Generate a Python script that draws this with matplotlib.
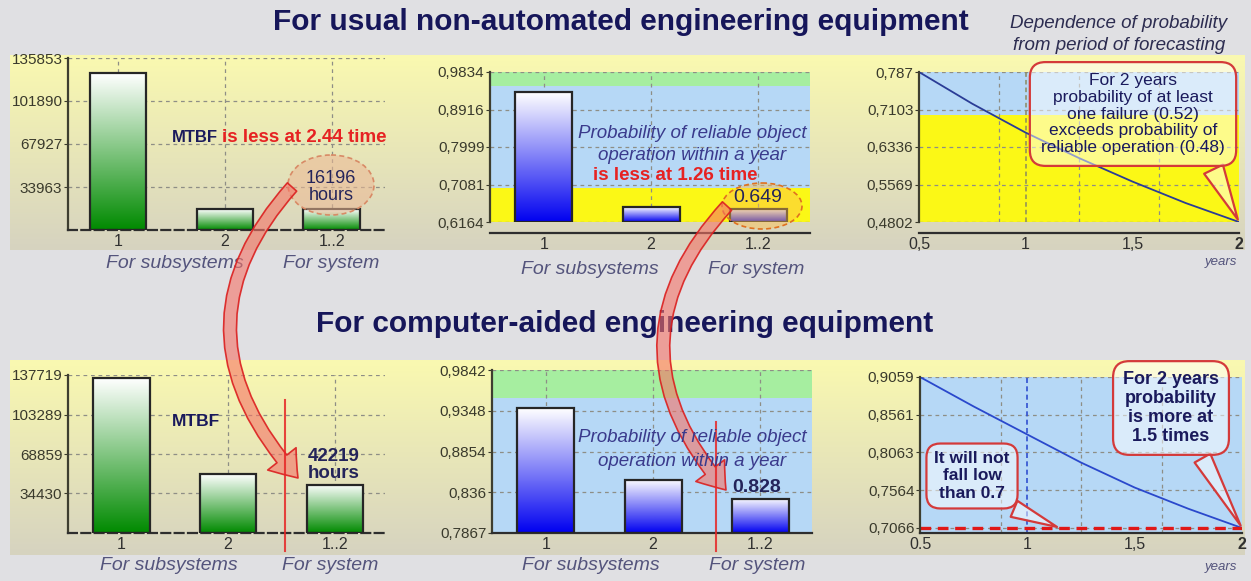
import numpy as np
import matplotlib
matplotlib.use('Agg')
import matplotlib.pyplot as plt
from matplotlib.patches import Ellipse, FancyArrowPatch
from matplotlib.path import Path
from matplotlib.colors import LinearSegmentedColormap

plt.rcParams['font.family'] = ['Liberation Sans', 'DejaVu Sans']

W, H = 1251, 581

# ---------------------------------------------------------------------------
# data
# ---------------------------------------------------------------------------
categories = ['1', '2', '1..2']
cat_pos = [1, 2, 3]

mtbf_usual = [124000, 16500, 16196]
mtbf_cad = [135000, 51000, 42219]
mtbf_usual_ticks = [33963, 67927, 101890, 135853]
mtbf_cad_ticks = [34430, 68859, 103289, 137719]

prob_usual = [0.934, 0.653, 0.649]
prob_cad = [0.938, 0.851, 0.828]
prob_usual_ticks = [0.6164, 0.7081, 0.7999, 0.8916, 0.9834]
prob_cad_ticks = [0.7867, 0.836, 0.8854, 0.9348, 0.9842]

years = [0.5, 0.75, 1.0, 1.25, 1.5, 1.75, 2.0]
prob_years_usual = [0.787, 0.722, 0.663, 0.611, 0.563, 0.519, 0.4802]
prob_years_cad = [0.9059, 0.867, 0.830, 0.793, 0.760, 0.732, 0.7066]
years_ticks = [0.5, 1, 1.5, 2]
years_labels_top = ['0,5', '1', '1,5', '2']
years_labels_bottom = ['0.5', '1', '1,5', '2']
years_usual_ticks = [0.4802, 0.5569, 0.6336, 0.7103, 0.787]
years_cad_ticks = [0.7066, 0.7564, 0.8063, 0.8561, 0.9059]
prob_floor = 0.7066
one_year = 1.0

# probability zones
zone_green = (0.95, 1.0)
zone_blue = (0.70, 0.95)
zone_yellow = (0.0, 0.70)

NAVY = '#1a1a5c'
RED = '#e62222'
SUB = '#54547c'
GRIDC = '#8e8e86'


def px_axes(x0, y0, x1, y1, z=1):
    ax = fig.add_axes([x0 / W, 1 - y1 / H, (x1 - x0) / W, (y1 - y0) / H])
    ax.set_zorder(z)
    return ax


def comma(v):
    return f'{v}'.replace('.', ',')


def style_axes(ax, yticks, ylabels, offset=0, dashed_bottom=False):
    ax.set_facecolor('none')
    ax.spines['top'].set_visible(False)
    ax.spines['right'].set_visible(False)
    ax.spines['left'].set_color('#3e3e30')
    ax.spines['left'].set_linewidth(1.6)
    ax.spines['bottom'].set_color('#2e2e2e')
    ax.spines['bottom'].set_linewidth(1.6)
    if offset:
        ax.spines['bottom'].set_position(('outward', offset))
    if dashed_bottom:
        ax.spines['bottom'].set_linestyle((0, (4, 2)))
    ax.set_yticks(yticks)
    ax.set_yticklabels(ylabels)
    ax.tick_params(axis='y', length=3, pad=1, labelsize=11, colors='#3a3a2c')
    ax.tick_params(axis='x', length=0, pad=3, labelsize=11.5, colors='#303030')
    ax.set_axisbelow(True)


def zones(ax):
    ax.axhspan(*zone_green, color='#a6eea0', zorder=0, lw=0)
    ax.axhspan(*zone_blue, color='#b6d8f6', zorder=0, lw=0)
    ax.axhspan(*zone_yellow, color='#fbf816', zorder=0, lw=0)


def gradient_bars(ax, vals, bottom, color):
    heights = [v - bottom for v in vals]
    bars = ax.bar(cat_pos, heights, bottom=bottom, width=0.53, facecolor='none',
                  edgecolor='#262626', lw=1.6, zorder=3)
    cmap = LinearSegmentedColormap.from_list('g', ['white', color])
    grad = np.linspace(1, 0, 256).reshape(-1, 1)
    for b in bars:
        x0, y0 = b.get_x(), b.get_y()
        im = ax.imshow(grad, cmap=cmap, origin='lower', aspect='auto', zorder=2,
                       extent=[x0, x0 + b.get_width(), y0, y0 + b.get_height()])
        im.set_clip_path(b)
    return bars


fig = plt.figure(figsize=(W / 100, H / 100), dpi=100)
fig.patch.set_facecolor('#e0e0e3')

# ---------------------------------------------------------------------------
# background layer: yellow strips and headings
# ---------------------------------------------------------------------------
bg = fig.add_axes([0, 0, 1, 1])
bg.set_zorder(-5)
bg.set_xlim(0, W)
bg.set_ylim(H, 0)
bg.axis('off')

top_c = np.array([250, 249, 176]) / 255
bot_c = np.array([214, 211, 192]) / 255
t = np.linspace(0, 1, 200).reshape(-1, 1, 1)
strip = top_c * (1 - t) + bot_c * t
for (ya, yb) in [(55, 250), (360, 555)]:
    bg.imshow(strip, extent=[10, 1245, yb, ya], aspect='auto', zorder=1)
bg.set_xlim(0, W)
bg.set_ylim(H, 0)

bg.text(621, 22, 'For usual non-automated engineering equipment', ha='center', va='center',
        fontsize=21.5, fontweight='bold', color='#16165a')
bg.text(625, 324, 'For computer-aided engineering equipment', ha='center', va='center',
        fontsize=21.5, fontweight='bold', color='#16165a')
bg.text(1119, 23, 'Dependence of probability', ha='center', va='center',
        fontsize=13.5, style='italic', color='#2c2c50')
bg.text(1119, 45, 'from period of forecasting', ha='center', va='center',
        fontsize=13.5, style='italic', color='#2c2c50')

for (xc, y, s) in [(175, 263, 'For subsystems'), (331, 263, 'For system'),
                   (590, 269, 'For subsystems'), (756, 269, 'For system'),
                   (169, 566, 'For subsystems'), (330, 566, 'For system'),
                   (591, 565, 'For subsystems'), (757, 565, 'For system')]:
    bg.text(xc, y, s, ha='center', va='center', fontsize=14, style='italic', color=SUB)
bg.text(1237, 262, 'years', ha='right', va='center', fontsize=9.5, style='italic', color=SUB)
bg.text(1237, 567, 'years', ha='right', va='center', fontsize=9.5, style='italic', color=SUB)

# ---------------------------------------------------------------------------
# MTBF panels
# ---------------------------------------------------------------------------
ax1 = px_axes(68, 58, 385, 230)
gradient_bars(ax1, mtbf_usual, 0, '#008a00')
style_axes(ax1, mtbf_usual_ticks, [str(v) for v in mtbf_usual_ticks], dashed_bottom=True)
ax1.set_xticks(cat_pos)
ax1.set_xticklabels(categories)
ax1.grid(True, ls=(0, (3, 3)), color=GRIDC, lw=0.9)
ax1.set_xlim(0.53, 3.5)
ax1.set_ylim(0, mtbf_usual_ticks[-1])

ax4 = px_axes(68, 375, 385, 533)
gradient_bars(ax4, mtbf_cad, 0, '#008a00')
style_axes(ax4, mtbf_cad_ticks, [str(v) for v in mtbf_cad_ticks], dashed_bottom=True)
ax4.set_xticks(cat_pos)
ax4.set_xticklabels(categories)
ax4.grid(True, ls=(0, (3, 3)), color=GRIDC, lw=0.9)
ax4.set_xlim(0.5, 3.47)
ax4.set_ylim(0, mtbf_cad_ticks[-1])

# ---------------------------------------------------------------------------
# probability-per-year panels
# ---------------------------------------------------------------------------
ax2 = px_axes(490, 72, 810, 222)
zones(ax2)
gradient_bars(ax2, prob_usual, prob_usual_ticks[0], '#0000f0')
style_axes(ax2, prob_usual_ticks, [comma(v) for v in prob_usual_ticks], offset=8)
ax2.set_xticks(cat_pos)
ax2.set_xticklabels(categories)
ax2.grid(True, ls=(0, (3, 3)), color=GRIDC, lw=0.9)
ax2.set_xlim(0.5, 3.48)
ax2.set_ylim(prob_usual_ticks[0], prob_usual_ticks[-1])

ax5 = px_axes(492, 370, 812, 533)
zones(ax5)
gradient_bars(ax5, prob_cad, prob_cad_ticks[0], '#0000f0')
style_axes(ax5, prob_cad_ticks, [comma(v) for v in prob_cad_ticks])
ax5.set_xticks(cat_pos)
ax5.set_xticklabels(categories)
ax5.grid(True, ls=(0, (3, 3)), color=GRIDC, lw=0.9)
ax5.set_xlim(0.5, 3.48)
ax5.set_ylim(prob_cad_ticks[0], prob_cad_ticks[-1])

# ---------------------------------------------------------------------------
# probability vs forecasting period
# ---------------------------------------------------------------------------
ax3 = px_axes(919, 72, 1239, 222, z=2)
zones(ax3)
ax3.plot(years, prob_years_usual, color='#2a3c96', lw=1.3, zorder=2)
style_axes(ax3, years_usual_ticks, [comma(v) for v in years_usual_ticks], offset=8)
ax3.set_xticks(years_ticks)
ax3.set_xticklabels(years_labels_top)
ax3.set_xticks([0.875, 1.25, 1.625], minor=True)
ax3.tick_params(axis='x', which='minor', length=0)
ax3.grid(True, axis='y', ls=(0, (3, 3)), color=GRIDC, lw=0.9)
ax3.grid(True, axis='x', which='minor', ls=(0, (3, 3)), color=GRIDC, lw=0.9)
ax3.axvline(one_year, color='#8a8a60', ls=(0, (3, 2)), lw=1.1, zorder=1)
ax3.set_xlim(years[0], years[-1])
ax3.set_ylim(years_usual_ticks[0], years_usual_ticks[-1])
ax3.get_xticklabels()[-1].set_fontweight('bold')

ax6 = px_axes(920, 377, 1242, 533, z=2)
zones(ax6)
ax6.plot(years, prob_years_cad, color='#2a48cc', lw=1.3, zorder=2)
ax6.axhline(prob_floor, color='#e01818', lw=2.4, ls=(0, (3.2, 2)), zorder=2)
ax6.axvline(one_year, color='#3050d0', ls=(0, (3, 2)), lw=1.2, zorder=1)
style_axes(ax6, years_cad_ticks, [comma(v) for v in years_cad_ticks])
ax6.set_xticks(years_ticks)
ax6.set_xticklabels(years_labels_bottom)
ax6.set_xticks([0.875, 1.25, 1.625], minor=True)
ax6.tick_params(axis='x', which='minor', length=0)
ax6.grid(True, axis='y', ls=(0, (3, 3)), color=GRIDC, lw=0.9)
ax6.grid(True, axis='x', which='minor', ls=(0, (3, 3)), color=GRIDC, lw=0.9)
ax6.set_xlim(years[0], years[-1])
ax6.set_ylim(0.70, years_cad_ticks[-1])
ax6.get_xticklabels()[-1].set_fontweight('bold')

# speech bubbles
bubble = dict(boxstyle='round,pad=0.65,rounding_size=0.9', fc=(1, 1, 1, 0.5), ec='#d43a3a', lw=1.6)
ax3.annotate('For 2 years\nprobability of at least\none failure (0.52)\nexceeds probability of\nreliable operation (0.48)',
             xy=(years[-1], prob_years_usual[-1]), xycoords='data',
             xytext=(1133, H - 114), textcoords='figure pixels',
             ha='center', va='center', fontsize=12.5, color=NAVY, linespacing=1.13,
             bbox=bubble, annotation_clip=False, zorder=6,
             arrowprops=dict(arrowstyle='wedge,tail_width=1.2,shrink_factor=0.5',
                             fc=(1, 1, 1, 0.5), ec='#d43a3a', lw=1.6, relpos=(0.9, 0)))
ax6.annotate('It will not\nfall low\nthan 0.7', xy=(1.15, prob_floor), xycoords='data',
             xytext=(972, H - 476), textcoords='figure pixels',
             ha='center', va='center', fontsize=12.5, fontweight='bold', color=NAVY,
             linespacing=1.18, bbox=dict(bubble, boxstyle='round,pad=0.45,rounding_size=0.8'),
             annotation_clip=False, zorder=6,
             arrowprops=dict(arrowstyle='wedge,tail_width=1.0,shrink_factor=0.5',
                             fc=(1, 1, 1, 0.5), ec='#d43a3a', lw=1.6, relpos=(0.8, 0)))
ax6.annotate('For 2 years\nprobability\nis more at\n1.5 times', xy=(years[-1], prob_years_cad[-1]),
             xycoords='data', xytext=(1171, H - 408), textcoords='figure pixels',
             ha='center', va='center', fontsize=13, fontweight='bold', color=NAVY,
             linespacing=1.15, bbox=dict(bubble, boxstyle='round,pad=0.55,rounding_size=0.9'),
             annotation_clip=False, zorder=6,
             arrowprops=dict(arrowstyle='wedge,tail_width=1.0,shrink_factor=0.5',
                             fc=(1, 1, 1, 0.5), ec='#d43a3a', lw=1.6, relpos=(0.75, 0)))

# ---------------------------------------------------------------------------
# overlay: highlights, arrows, labels
# ---------------------------------------------------------------------------
ov = fig.add_axes([0, 0, 1, 1])
ov.set_zorder(4)
ov.set_xlim(0, W)
ov.set_ylim(H, 0)
ov.axis('off')

ov.add_patch(Ellipse((331, 185), 86, 60, fc=(0.93, 0.72, 0.58, 0.55), ec='#d88a66',
                     ls=(0, (3, 2)), lw=1.2, zorder=1))
ov.add_patch(Ellipse((762, 206), 80, 46, fc=(1.0, 0.74, 0.3, 0.45), ec='#e07020',
                     ls=(0, (3, 2)), lw=1.2, zorder=1))

for (p0, c, p1, xline, yline) in [((292, 187), (165, 330), (298, 478), 285, 400),
                                  ((727, 206), (600, 345), (726, 490), 716, 422)]:
    arrow = FancyArrowPatch(path=Path([p0, c, p1], [Path.MOVETO, Path.CURVE3, Path.CURVE3]),
                            arrowstyle='simple,head_length=1.8,head_width=2.6,tail_width=0.9',
                            mutation_scale=10, fc=(0.96, 0.45, 0.4, 0.6), ec=(0.86, 0.12, 0.12, 0.9),
                            lw=1.2, transform=ov.transData, zorder=2)
    ov.add_patch(arrow)
    ov.plot([xline, xline], [yline, H - 30], color=(0.9, 0.15, 0.15, 0.85), lw=1.5, zorder=2)

ov.text(172, 137, 'MTBF', ha='left', va='center', fontsize=12, fontweight='bold', color=NAVY, zorder=3)
ov.text(222, 137, 'is less at 2.44 time', ha='left', va='center', fontsize=13.5,
        fontweight='bold', color=RED, zorder=3)
ov.text(331, 187, '16196\nhours', ha='center', va='center', fontsize=13, color='#24245a',
        linespacing=1.0, zorder=3)
ov.text(692, 133, 'Probability of reliable object', ha='center', va='center', fontsize=13.5,
        style='italic', color='#3a3a8c', zorder=3)
ov.text(692, 156, 'operation within a year', ha='center', va='center', fontsize=13.5,
        style='italic', color='#3a3a8c', zorder=3)
ov.text(675, 176, 'is less at 1.26 time', ha='center', va='center', fontsize=13.5,
        fontweight='bold', color=RED, zorder=3)
ov.text(758, 197, '0.649', ha='center', va='center', fontsize=14, color='#24245a', zorder=3)

ov.text(172, 422, 'MTBF', ha='left', va='center', fontsize=12.5, fontweight='bold', color=NAVY, zorder=3)
ov.text(334, 465, '42219\nhours', ha='center', va='center', fontsize=13.5, fontweight='bold',
        color='#24245a', linespacing=0.95, zorder=3)
ov.text(692, 437, 'Probability of reliable object', ha='center', va='center', fontsize=13.5,
        style='italic', color='#3a3a8c', zorder=3)
ov.text(692, 461, 'operation within a year', ha='center', va='center', fontsize=13.5,
        style='italic', color='#3a3a8c', zorder=3)
ov.text(757, 487, '0.828', ha='center', va='center', fontsize=14, fontweight='bold',
        color='#24245a', zorder=3)

fig.savefig('out.png', dpi=100, facecolor=fig.get_facecolor())
